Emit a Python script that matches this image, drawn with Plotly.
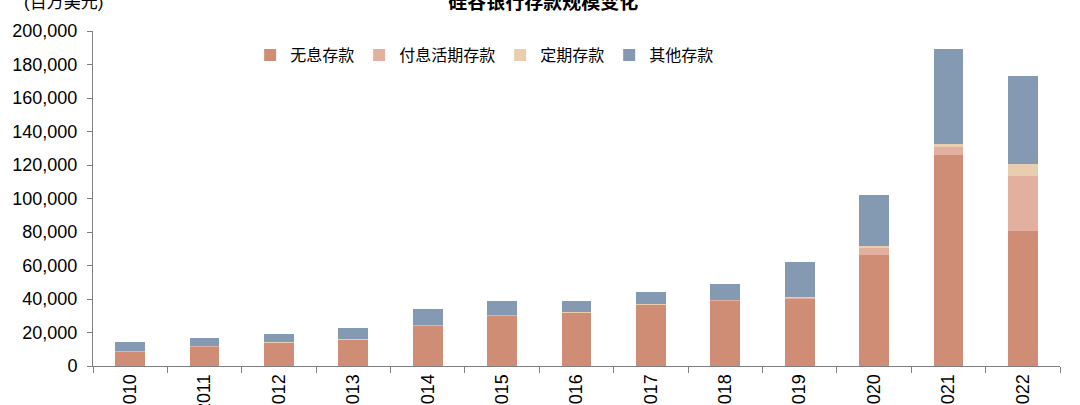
import plotly.graph_objects as go

years = ["2010", "2011", "2012", "2013", "2014", "2015", "2016",
         "2017", "2018", "2019", "2020", "2021", "2022"]
non_interest = [8750, 11750, 13750, 15550, 24250, 30250, 31650,
                36450, 39000, 40400, 66500, 125900, 80700]
interest_checking = [300, 300, 300, 300, 300, 300, 300,
                     300, 500, 600, 4200, 5000, 32900]
time_deposits = [150, 150, 150, 150, 150, 150, 150,
                 150, 200, 200, 1000, 1600, 6800]
other_deposits = [5000, 4300, 4700, 6500, 9600, 8400, 6500,
                  7100, 9500, 20600, 30100, 56500, 52700]

series_names = ["无息存款", "付息活期存款", "定期存款", "其他存款"]
series_values = [non_interest, interest_checking, time_deposits, other_deposits]
colors = ["#CF8D76", "#E3AF9F", "#E8CDAE", "#8499B2"]

FONT = "Arial, 'Liberation Sans', 'Noto Sans CJK SC', sans-serif"

fig = go.Figure()
for name, vals, col in zip(series_names, series_values, colors):
    fig.add_trace(go.Bar(x=years, y=vals, name=name,
                         marker=dict(color=col, line=dict(width=0))))

fig.update_layout(
    width=1080, height=405,
    barmode="stack", bargap=0.6,
    plot_bgcolor="white", paper_bgcolor="white",
    margin=dict(l=93, r=20, t=31, b=39, autoexpand=False),
    font=dict(family=FONT, size=18, color="black"),
    title=dict(text="<b>硅谷银行存款规模变化</b>", x=0.503, xanchor="center",
               y=0.995, yref="container", yanchor="middle",
               font=dict(family="'Noto Sans CJK SC', sans-serif", size=19, color="black")),
    legend=dict(orientation="h", x=0.405, xanchor="center", y=0.928, yanchor="middle",
                font=dict(family=FONT, size=16, color="black"),
                bgcolor="rgba(0,0,0,0)", traceorder="normal", itemwidth=30),
    showlegend=True,
)
fig.update_yaxes(range=[0, 200000], dtick=20000, tickformat=",d",
                 showgrid=False, zeroline=False, automargin=False,
                 showline=True, linecolor="#7f7f7f", linewidth=1,
                 ticks="outside", ticklen=5, tickcolor="#7f7f7f",
                 ticklabelstandoff=6,
                 tickfont=dict(size=18, color="black"))
fig.update_xaxes(type="category", showgrid=False, automargin=False,
                 showline=True, linecolor="#7f7f7f", linewidth=1,
                 ticks="outside", ticklen=6, tickcolor="#7f7f7f",
                 tickson="boundaries", tickangle=-90,
                 tickfont=dict(size=18, color="black"))

fig.add_annotation(text="(百万美元)", xref="paper", yref="paper",
                   x=-0.0734, y=1.085, xanchor="left", yanchor="middle",
                   showarrow=False, font=dict(family=FONT, size=17, color="black"))

fig.write_html("out.html", config={"displayModeBar": False},
               post_script="document.body.style.margin='0';document.body.style.overflow='hidden';")
